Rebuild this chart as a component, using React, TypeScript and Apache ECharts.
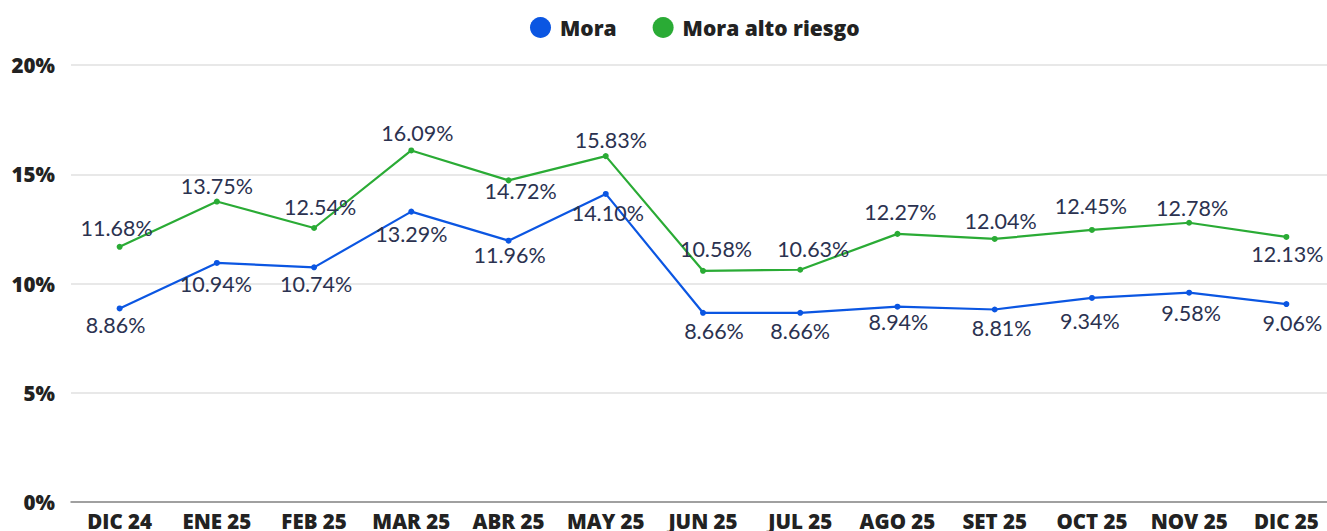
import React, { useEffect, useRef } from "react";
import * as echarts from "echarts";

const categories = ["DIC 24", "ENE 25", "FEB 25", "MAR 25", "ABR 25", "MAY 25", "JUN 25", "JUL 25", "AGO 25", "SET 25", "OCT 25", "NOV 25", "DIC 25"];
const mora = [8.86, 10.94, 10.74, 13.29, 11.96, 14.1, 8.66, 8.66, 8.94, 8.81, 9.34, 9.58, 9.06];
const moraAlto = [11.68, 13.75, 12.54, 16.09, 14.72, 15.83, 10.58, 10.63, 12.27, 12.04, 12.45, 12.78, 12.13];
const yTicks = [0, 5, 10, 15, 20];

// label offsets [dx, dy] relative to each point
const moraOffsets = [[-4, 17], [-1, 21], [2, 17], [0, 22], [1, 14], [2, 19], [11, 18], [0, 18], [1, 15], [7, 18], [-2, 23], [2, 20], [6, 19]];
const altoOffsets = [[-3, -19], [0, -16], [6, -21], [6, -17], [12, 11], [5, -16], [13, -22], [13, -21], [3, -22], [6, -18], [-1, -24], [3, -15], [1, 17]];

const BLUE = "#0b56e2";
const GREEN = "#2aab35";
const LABEL_COLOR = "#2b3250";

function buildData(vals: number[], offs: number[][]) {
  return vals.map((v, i) => ({
    value: v,
    label: { offset: offs[i] },
  }));
}

export default function App() {
  const ref = useRef<HTMLDivElement>(null);
  useEffect(() => {
    if (!ref.current) return;
    const chart = echarts.init(ref.current, undefined, { renderer: "svg" });
    const labelCommon = {
      show: true,
      position: "inside",
      align: "center",
      verticalAlign: "middle",
      fontFamily: "Lato",
      fontSize: 21.5,
      color: LABEL_COLOR,
      formatter: (p: any) => p.value.toFixed(2) + "%",
    };
    chart.setOption({
      animation: false,
      legend: {
        top: 12,
        left: 525,
        itemWidth: 21,
        itemHeight: 21,
        itemGap: 36,
        icon: "circle",
        textStyle: { fontFamily: "Open Sans", fontWeight: 800, fontSize: 21, color: "#222", padding: [0, 0, 0, 4] },
        data: ["Mora", "Mora alto riesgo"],
      },
      grid: { left: 71, right: 0, top: 65, bottom: 27, containLabel: false },
      xAxis: {
        type: "category",
        data: categories,
        boundaryGap: true,
        axisLine: { show: true, lineStyle: { color: "#888", width: 1.5 } },
        axisTick: { show: false },
        axisLabel: {
          margin: 8,
          fontFamily: "Open Sans",
          fontWeight: 800,
          fontSize: 20.5,
          color: "#222",
          interval: 0,
        },
      },
      yAxis: {
        type: "value",
        min: 0,
        max: 20,
        interval: 5,
        axisLine: { show: false },
        axisTick: { show: false },
        splitLine: { lineStyle: { color: "#e0e0e0", width: 1.5 } },
        axisLabel: {
          margin: 16,
          fontFamily: "Open Sans",
          fontWeight: 800,
          fontSize: 20.5,
          color: "#222",
          formatter: (v: number) => (yTicks.includes(v) ? v + "%" : ""),
        },
      },
      series: [
        {
          name: "Mora",
          type: "line",
          data: buildData(mora, moraOffsets),
          color: BLUE,
          lineStyle: { width: 2.2, color: BLUE },
          symbol: "circle",
          symbolSize: 6,
          itemStyle: { color: BLUE },
          label: labelCommon,
          z: 3,
        },
        {
          name: "Mora alto riesgo",
          type: "line",
          data: buildData(moraAlto, altoOffsets),
          color: GREEN,
          lineStyle: { width: 2.2, color: GREEN },
          symbol: "circle",
          symbolSize: 6,
          itemStyle: { color: GREEN },
          label: labelCommon,
          z: 3,
        },
      ],
    });
    return () => chart.dispose();
  }, []);
  return (
    <div style={{ position: "absolute", left: 0, top: 0, width: 1327, height: 531, overflow: "hidden" }}>
      <div ref={ref} style={{ width: 1335, height: 531 }} />
    </div>
  );
}
